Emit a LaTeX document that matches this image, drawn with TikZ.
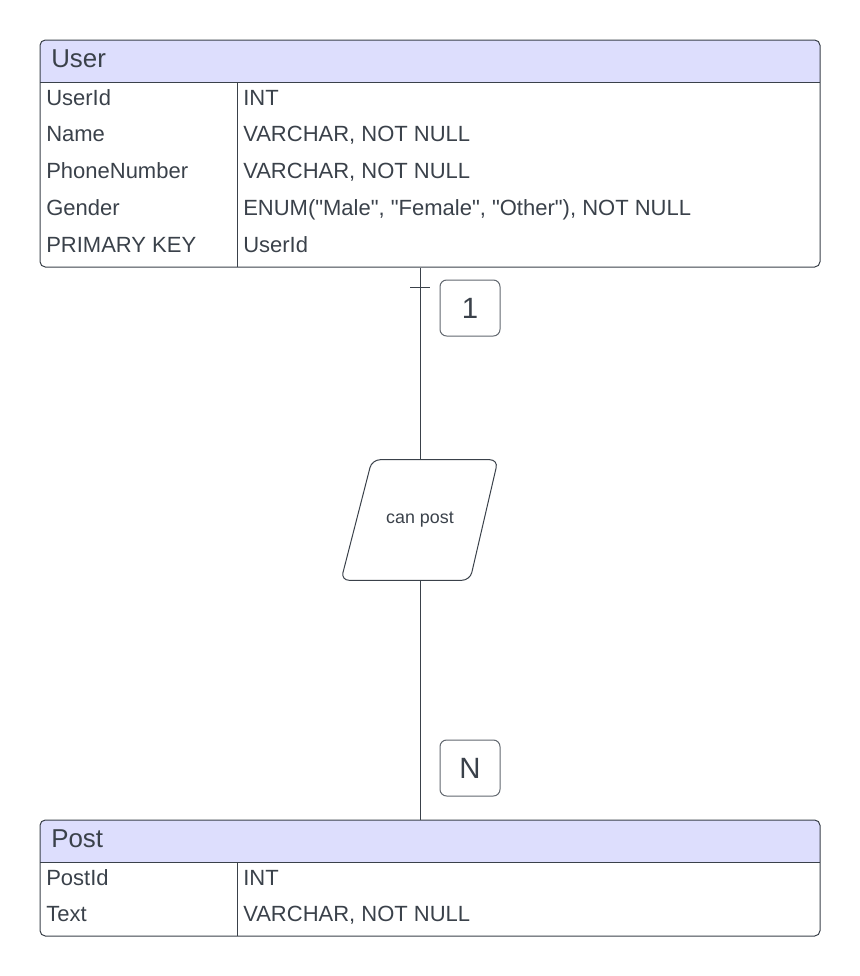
\documentclass[tikz,border=0pt]{standalone}
\usepackage{fontspec}
\setmainfont{Liberation Sans}
\usetikzlibrary{positioning, calc}

\definecolor{ink}{RGB}{58,65,74}
\definecolor{headfill}{RGB}{221,222,253}

\begin{document}
\begin{tikzpicture}[x=0.75pt, y=-0.75pt,
  tbl/.style={draw=ink, line width=0.75pt, rounded corners=4pt, minimum width=585pt, inner sep=0pt},
  head/.style={anchor=west, inner sep=0pt, text height=13.9pt, text depth=0pt, font=\fontsize{19.4}{22}\selectfont, text=ink},
  cell/.style={anchor=west, inner sep=0pt, text height=11.8pt, text depth=0pt, font=\fontsize{16.5}{19}\selectfont, text=ink},
  card/.style={draw=ink!80, line width=0.75pt, rounded corners=5pt, minimum width=45pt, minimum height=42pt, font=\fontsize{22}{24}\selectfont, text=ink},
  link/.style={draw=ink, line width=0.75pt}]
\useasboundingbox (0,0) rectangle (860,976);

% User table
\fill[headfill] (40,82) {[rounded corners=4pt] -- (40,40) -- (820,40)} -- (820,82) -- cycle;
\node (user) at (430,153.5) [tbl, minimum height=170.25pt] {};
\draw[link] (40,82) -- (820,82);
\draw[link] (237,82) -- (237,267);
\node (uhead) at (51,58) [head] {User};
\node (uid) at (46,98) [cell] {UserId};
\node (uname) at (46,134) [cell] {Name};
\node (uphone) at (46,171) [cell] {PhoneNumber};
\node (ugender) at (46,208) [cell] {Gender};
\node (upk) at (46,245) [cell] {PRIMARY KEY};
\node (uidt) at (243,98) [cell] {INT};
\node (unamet) at (243,134) [cell] {VARCHAR, NOT NULL};
\node (uphonet) at (243,171) [cell] {VARCHAR, NOT NULL};
\node (ugendert) at (243,208) [cell] {ENUM(\textquotedbl Male\textquotedbl, \textquotedbl Female\textquotedbl, \textquotedbl Other\textquotedbl), NOT NULL};
\node (upkt) at (243,245) [cell] {UserId};

% Post table
\fill[headfill] (40,862) {[rounded corners=4pt] -- (40,820) -- (820,820)} -- (820,862) -- cycle;
\node (post) at (430,878) [tbl, minimum height=87pt] {};
\draw[link] (40,862) -- (820,862);
\draw[link] (237,862) -- (237,936);
\node (phead) at (51,838) [head] {Post};
\node (pid) at (46,878) [cell] {PostId};
\node (ptext) at (46,914) [cell] {Text};
\node (pidt) at (243,878) [cell] {INT};
\node (ptextt) at (243,914) [cell] {VARCHAR, NOT NULL};

% relationship
\node (rel) at (420,520) [minimum width=60pt, minimum height=90pt, inner sep=0pt, text=ink, font=\fontsize{13.4}{15}\selectfont] {can post};
\draw[ink, line width=0.75pt, rounded corners=6pt] ($(rel.north)+(-48,0)$) -- ($(rel.north)+(78,0)$) -- ($(rel.south)+(50,0)$) -- ($(rel.south)+(-79,0)$) -- cycle;

\draw[link] (user.south -| rel.north) -- (rel.north);
\draw[link] (rel.south) -- (post.north -| rel.south);
\draw[link] ($(user.south -| rel.north)+(-10,20)$) -- ++(20,0);

% cardinalities
\node (one) at (470,308) [card] {1};
\node (many) at (470,768) [card] {N};
\end{tikzpicture}
\end{document}
